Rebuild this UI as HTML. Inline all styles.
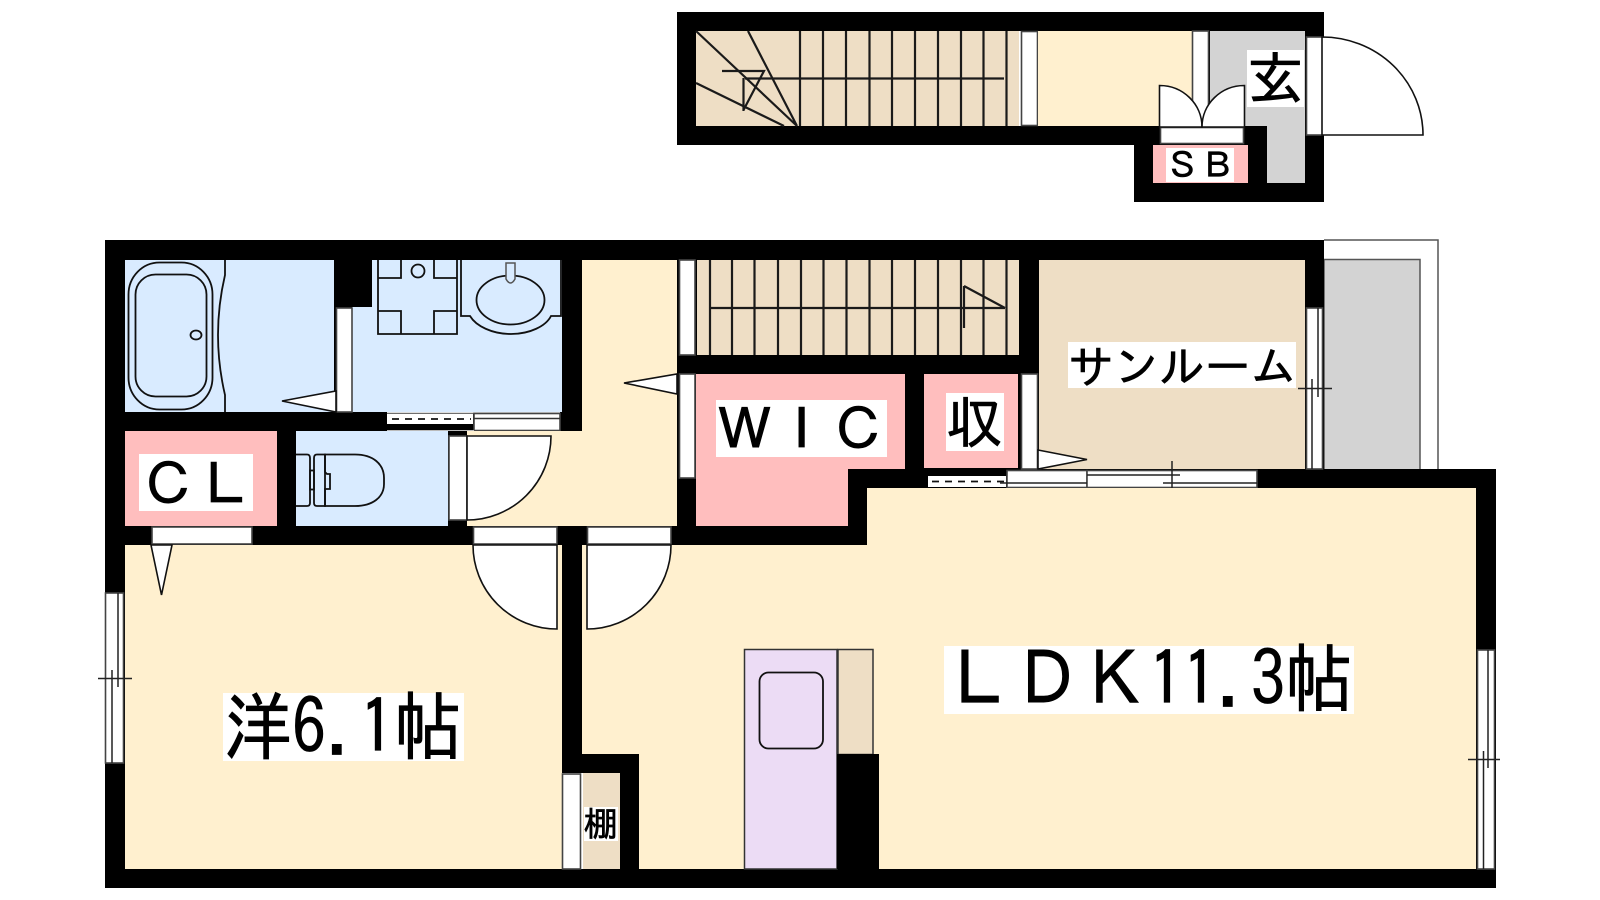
<!DOCTYPE html>
<html><head><meta charset="utf-8"><style>
html,body{margin:0;padding:0;background:#fff}
svg{display:block}
text{font-family:"IPAGothic","Liberation Sans","Noto Sans CJK JP",sans-serif;fill:#000;stroke:#000;stroke-width:.7}
.f{fill:#fff;stroke:#444;stroke-width:1.6}
.l{fill:none;stroke:#111;stroke-width:1.8}
.t{fill:none;stroke:#1a1a1a;stroke-width:2.2}
.d{fill:#fff;stroke:#111;stroke-width:1.6}
</style></head><body>
<svg width="1600" height="900" viewBox="0 0 1600 900" xmlns="http://www.w3.org/2000/svg">
<rect width="1600" height="900" fill="#fff"/>

<!-- upper floor -->
<polygon points="677,12 1324,12 1324,202 1134,202 1134,145 677,145" fill="#000"/>
<rect x="696" y="31" width="323" height="95" fill="#EEDEC5"/>
<rect x="1019" y="31" width="2" height="95" fill="#fff"/>
<rect x="1021.5" y="31.5" width="16" height="94" class="f"/>
<rect x="1038" y="31" width="154" height="95" fill="#FFF0CF"/>
<rect x="1192.5" y="31" width="16" height="95" class="f"/>
<polygon points="1210,31 1305,31 1305,183 1267,183 1267,126 1210,126" fill="#D3D3D3"/>
<g class="t">
<path d="M800 31V126M823 31V126M846 31V126M869.5 31V126M892 31V126M915 31V126M938 31V126M961 31V126M983.5 31V126M1006.5 31V126"/>
<path d="M745 78.5H1004"/>
<path d="M696 31L797 126M748 31L797 126M696 83L784 126"/>
<path d="M722 71H764L743.5 110M743.5 78V111"/>
</g>
<rect x="1153" y="145" width="95" height="38" fill="#FFBEBE"/>
<rect x="1166" y="148" width="68" height="34" fill="#fff"/>
<text x="1165" y="178" font-size="35" stroke-width=".5">ＳＢ</text>
<rect x="1160.5" y="127.5" width="83" height="16" class="f"/>
<path d="M1159.5 127V85.5C1183 85.5 1202 104 1202 127Z" class="d"/>
<path d="M1244.5 127V85.5C1221 85.5 1202 104 1202 127Z" class="d"/>
<rect x="1247" y="50" width="57" height="57" fill="#fff"/>
<text x="1247" y="99" font-size="57">玄</text>
<rect x="1306.5" y="37" width="16" height="98" class="f"/>
<path d="M1322 37A101 98 0 0 1 1423 135H1322Z" class="d"/>

<!-- balcony -->
<path d="M1324 240H1438V470" fill="#fff" stroke="#555" stroke-width="1.5"/>
<rect x="1324" y="259.5" width="96" height="211" fill="#D3D3D3" stroke="#555" stroke-width="1.5"/>

<!-- lower floor walls -->
<polygon points="105,240 1324,240 1324,469 1496,469 1496,888 105,888" fill="#000"/>

<!-- bath/wash -->
<rect x="125" y="260" width="209" height="152" fill="#D9EBFF"/>
<polygon points="372,260 562,260 562,412 352,412 352,307 372,307" fill="#D9EBFF"/>
<rect x="336.5" y="308" width="15.5" height="104" class="f"/>
<rect x="128.5" y="262.5" width="84" height="147" rx="31" ry="32" class="l" stroke-width="2"/>
<rect x="135.5" y="274.5" width="71" height="122" rx="20" ry="20" class="l"/>
<ellipse cx="196" cy="335" rx="5.5" ry="4.5" class="l"/>
<path d="M225 260V275Q218 305 218 335Q218 365 225 395V412" class="l"/>
<polygon points="282,401 336,391 336,412" class="d"/>
<path d="M378 260V334H457V260M378 278H401V260M378 311H401V334M457 278H434V260M457 311H434V334M401 311V334M434 311V334" class="l"/>
<circle cx="418" cy="271" r="6.5" class="l"/>
<path d="M461 260V316H470C476 326 492 334 511 334C530 334 546 326 551 316H561V260" class="l"/>
<ellipse cx="510.5" cy="300" rx="34" ry="24.5" class="l"/>
<path d="M506 263H515V279Q510.5 287 506 279Z" fill="#D9EBFF" stroke="#555" stroke-width="1.5"/>
<rect x="387" y="414" width="86" height="10" fill="#fff"/>
<path d="M392 419H471" stroke="#111" stroke-width="1.8" stroke-dasharray="7,6"/>
<rect x="387" y="412" width="173" height="1.5" fill="#ddd"/>
<rect x="474" y="413.5" width="86" height="17" class="f"/>
<path d="M474 418.5H560" stroke="#333" stroke-width="1.5"/>
<rect x="387" y="430" width="87" height="1" fill="#bbb"/>

<!-- CL -->
<rect x="125" y="431" width="152" height="95" fill="#FFBEBE"/>
<rect x="139" y="454" width="114" height="57" fill="#fff"/>
<text x="140" y="505" font-size="57">ＣＬ</text>
<rect x="152" y="527" width="100" height="17" class="f"/>

<!-- WC -->
<rect x="296" y="431" width="152" height="95" fill="#D9EBFF"/>
<path d="M296 454.5H307Q310 454.5 310 458V503Q310 506 307 506H296" class="l"/>
<rect x="310" y="470.5" width="4" height="19" class="l"/>
<path d="M325 454.5H355C373 454.5 384 464 384 478V484C384 497 373 506 355 506H325Z" class="l"/>
<path d="M325 454.5H317Q314 454.5 314 458V503Q314 506 317 506H325V489H330V474H327L325 472Z" class="l"/>

<!-- corridor -->
<polygon points="582,260 677,260 677,526 467,526 467,431 582,431" fill="#FFF0CF"/>
<rect x="449" y="436" width="18" height="84" fill="#fff" stroke="#444" stroke-width="1.6"/>
<path d="M467 436H551A84 84 0 0 1 467 520Z" class="d"/>
<rect x="679.5" y="260" width="15.5" height="95" class="f"/>
<rect x="679.5" y="374" width="15.5" height="104" class="f"/>
<polygon points="624,383 677,374 677,394" class="d"/>

<!-- stairs -->
<rect x="697" y="260" width="322" height="95" fill="#EEDEC5"/>
<g class="t">
<path d="M710 260V355M732 260V355M754.500 260V355M778 260V355M801 260V355M823.500 260V355M846.500 260V355M869.500 260V355M892 260V355M915 260V355M938 260V355M961 260V355M983.500 260V355M1006.500 260V355"/>
<path d="M711 308H1005M964 286V328M964 286L1005 308"/>
</g>

<!-- WIC / storage -->
<polygon points="696,374 905,374 905,469 848,469 848,526 696,526" fill="#FFBEBE"/>
<rect x="716" y="400" width="171" height="57" fill="#fff"/>
<text x="716" y="450" font-size="57">ＷＩＣ</text>
<rect x="924" y="374" width="94" height="94" fill="#FFBEBE"/>
<rect x="946" y="393" width="58" height="58" fill="#fff"/>
<text x="946" y="443" font-size="57">収</text>

<!-- sunroom -->
<rect x="1039" y="260" width="266" height="209" fill="#EEDEC5"/>
<rect x="1021.500" y="374" width="16" height="95" class="f"/>
<polygon points="1038,450 1087,459.500 1038,469" class="d"/>
<rect x="1068" y="342" width="228" height="46" fill="#fff"/>
<text x="1068" y="383" font-size="45.600" stroke-width=".5">サンルーム</text>
<rect x="1306.500" y="308" width="16" height="161" class="f"/>
<path d="M1318 308V397M1312 379V469M1298 388.500H1332" stroke="#222" stroke-width="1.500" fill="none"/>

<!-- slider below sunroom -->
<rect x="928" y="476" width="78" height="11" fill="#fff"/>
<path d="M932 481.500H1004" stroke="#111" stroke-width="1.800" stroke-dasharray="7,6"/>
<rect x="1007" y="470.500" width="80" height="17" class="f"/>
<rect x="1087" y="470.500" width="170" height="17" class="f"/>
<path d="M1000 483H1087M1087 475H1180M1163 483H1257M1172 461V496" stroke="#222" stroke-width="1.500" fill="none"/>

<!-- rooms -->
<rect x="125" y="545" width="437" height="324" fill="#FFF0CF"/>
<polygon points="582,545 867,545 867,488 1476,488 1476,869 582,869" fill="#FFF0CF"/>
<rect x="582" y="754" width="57" height="115" fill="#000"/>
<polygon points="151,545 172,545 161.500,595" class="d"/>

<!-- shelf -->
<rect x="562" y="773" width="58" height="96" fill="#fff"/>
<rect x="562.500" y="774" width="18" height="95" class="f"/>
<rect x="583" y="773" width="37" height="96" fill="#EEDEC5"/>
<rect x="584" y="807" width="34" height="34" fill="#fff"/>
<text x="584" y="836" font-size="34" stroke-width=".5">棚</text>

<!-- doors to rooms -->
<rect x="473.500" y="527" width="83.500" height="17" class="f"/>
<path d="M557 545V629A84 84 0 0 1 473 545Z" class="d"/>
<rect x="587.500" y="527" width="83.500" height="17" class="f"/>
<path d="M587 545H671A84 84 0 0 1 587 629Z" class="d"/>

<!-- kitchen -->
<rect x="744.500" y="649.500" width="92.500" height="219.500" fill="#ECDCF5" stroke="#333" stroke-width="1.500"/>
<rect x="838" y="649.500" width="35" height="105" fill="#EEDEC5" stroke="#333" stroke-width="1.500"/>
<rect x="759.500" y="672.500" width="63.500" height="76" rx="9" class="l"/>
<rect x="837" y="754" width="42" height="115" fill="#000"/>

<!-- windows -->
<rect x="105.500" y="593" width="18" height="170" class="f"/>
<path d="M118 593V687M112 670V763M98 678.500H132" stroke="#222" stroke-width="1.500" fill="none"/>
<rect x="1477.500" y="650" width="17" height="219" class="f"/>
<path d="M1488 650V768M1483.500 751V869M1468 759.500H1500" stroke="#222" stroke-width="1.500" fill="none"/>

<!-- labels -->
<rect x="223" y="693" width="241" height="68" fill="#fff"/>
<text transform="translate(224,754) scale(1,1.1)" font-size="68">洋6.1帖</text>
<rect x="944" y="646" width="410" height="68" fill="#fff"/>
<text transform="translate(945,706) scale(1,1.1)" font-size="68">ＬＤＫ11.3帖</text>
</svg>
</body></html>
